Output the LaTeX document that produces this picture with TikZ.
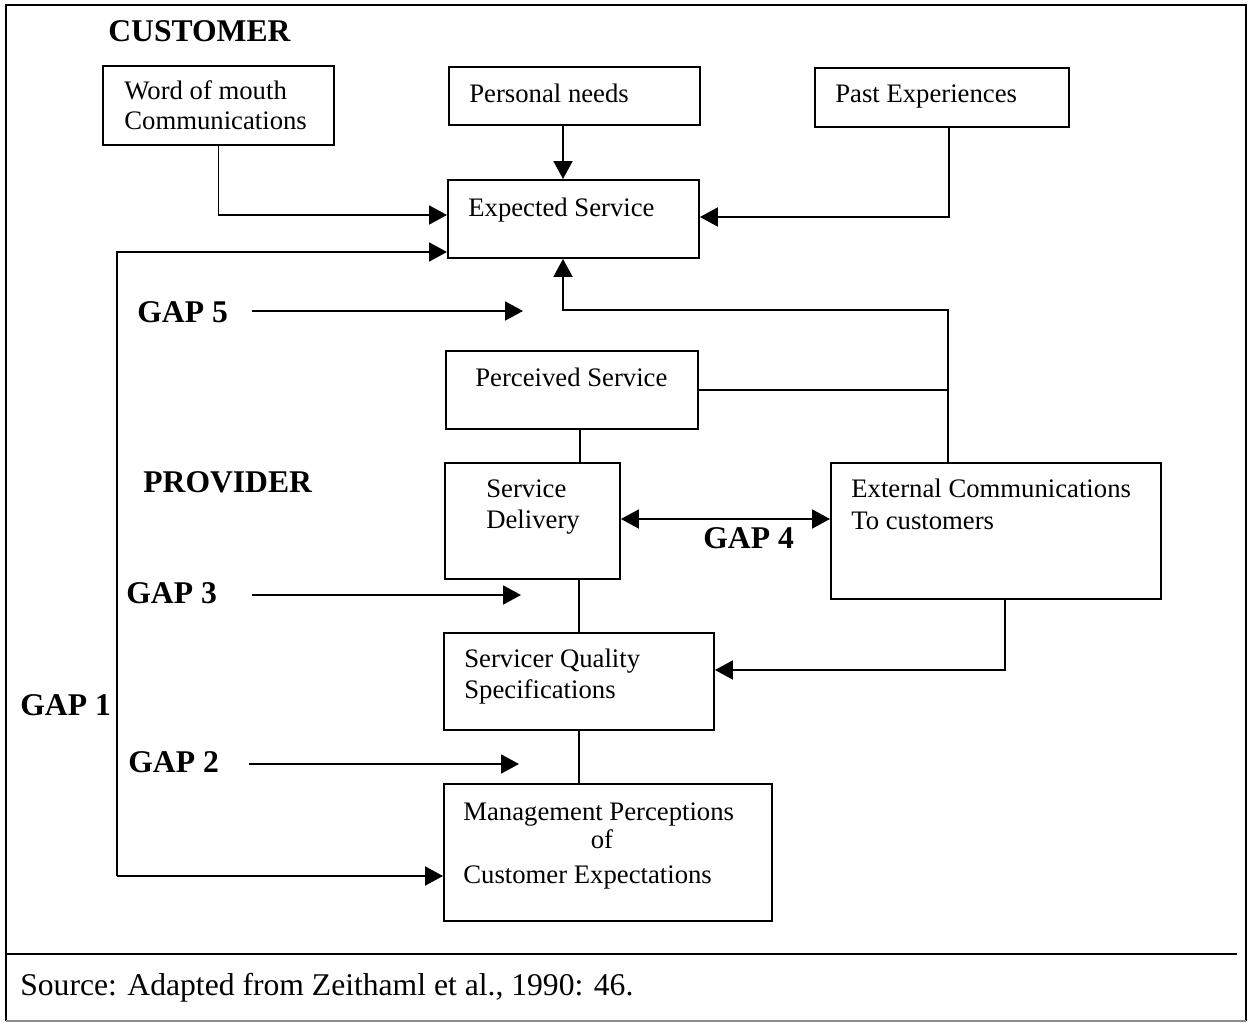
\documentclass[tikz,border=0pt]{standalone}
\usepackage{fontspec}
\setmainfont{Liberation Serif}
\usetikzlibrary{arrows.meta}
\begin{document}
\begin{tikzpicture}[x=0.02cm,y=-0.02cm,
  frame/.style={line width=1.6pt},
  boxnode/.style 2 args={draw, line width=1.1pt, rectangle, inner sep=0pt,
    anchor=north west, minimum width=#1*0.02cm, minimum height=#2*0.02cm},
  txt/.style={anchor=base west, inner sep=0pt, font=\fontsize{15.2}{18}\selectfont},
  head/.style={anchor=base west, inner sep=0pt, font=\fontsize{18}{21}\selectfont\bfseries},
  note/.style={anchor=base west, inner sep=0pt, font=\fontsize{18}{21}\selectfont},
  link/.style={line width=1.1pt},
  tip/.tip={Triangle[length=0.36cm,width=0.38cm]},
  arr/.style={link, -tip},
  darr/.style={link, tip-tip},
]
\useasboundingbox (0,0) rectangle (1252,1024);
\fill[white] (0,0) rectangle (1252,1024);

% outer frame and the source strip
\draw[frame] (6,1021) -- (6,5) -- (1246,5) -- (1246,1021);
\draw[line width=0.8pt, black!45] (6,1021) -- (1246,1021);
\draw[line width=1.1pt] (6,954) -- (1237,954);

% section headings
\node[head] (cust) at (108,42) {CUSTOMER};
\node[head] (prov) at (143,492) {PROVIDER};

% boxes
\node[boxnode={231}{79}] (wom) at (102,65) {};
\node[boxnode={251}{58}] (pn)  at (448,66) {};
\node[boxnode={254}{59}] (pe)  at (814,67) {};
\node[boxnode={251}{78}] (es)  at (447,179) {};
\node[boxnode={252}{78}] (ps)  at (445,350) {};
\node[boxnode={175}{116}] (sd) at (444,462) {};
\node[boxnode={330}{136}] (ec) at (830,462) {};
\node[boxnode={270}{97}] (sq)  at (443,632) {};
\node[boxnode={328}{137}] (mp) at (443,783) {};

% box texts
\node[txt] (wom1) at (124,100) {Word of mouth};
\node[txt] (wom2) at (124,130) {Communications};
\node[txt] (pnt)  at (469,103) {Personal needs};
\node[txt] (pet)  at (835,103) {Past Experiences};
\node[txt] (est)  at (468,216) {Expected Service};
\node[txt] (pst)  at (475,386) {Perceived Service};
\node[txt] (sd1)  at (486,497) {Service};
\node[txt] (sd2)  at (486,528) {Delivery};
\node[txt] (ec1)  at (851,497) {External Communications};
\node[txt] (ec2)  at (851,529) {To customers};
\node[txt] (sq1)  at (464,667) {Servicer Quality};
\node[txt] (sq2)  at (464,698) {Specifications};
\node[txt] (mp1)  at (463,820) {Management Perceptions};
\node[txt, anchor=base] (mp2) at (602,848) {of};
\node[txt] (mp3)  at (463,883) {Customer Expectations};

% gap labels
\node[head] (gap5) at (137,322) {GAP 5};
\node[head] (gap4) at (703,548) {GAP 4};
\node[head] (gap3) at (126,603) {GAP 3};
\node[head] (gap1) at (20,715) {GAP 1};
\node[head] (gap2) at (128,772) {GAP 2};

% source line
\node[note] (src) at (20,995) {Source: Adapted from Zeithaml et al., 1990: 46.};

% customer side inputs
\draw[arr] (wom.south) |- (es.west |- 0,215);
\draw[arr] (563,0 |- pn.south) -- (563,0 |- es.north);
\draw[arr] (949,0 |- pe.south) |- (es.east |- 0,217);

% gap 1 bracket
\coordinate (g1t) at (117,252);
\coordinate (g1b) at (117,876);
\draw[arr] (g1b) -- (g1t) -- (es.west |- g1t);
\draw[arr] (g1b) -- (mp.west |- g1b);

% perceived service and external communications feed expected service
\coordinate (jt) at (948,310);
\coordinate (esin) at (563,310);
\draw[arr] (jt |- ec.north) -- (jt) -- (esin) -- (esin |- es.south);
\draw[link] (ps.east) -- (jt |- ps.east);

% provider chain
\draw[link] (580,0 |- ps.south) -- (580,0 |- sd.north);
\draw[link] (579,0 |- sd.south) -- (579,0 |- sq.north);
\draw[link] (sq.south) -- (sq.south |- mp.north);
\draw[darr] (sd.east |- 0,519) -- (ec.west |- 0,519);
\draw[arr] (1005,0 |- ec.south) |- (sq.east |- 0,670);

% gap arrows
\coordinate (g5s) at (252,311);
\coordinate (g5e) at (523,311);
\coordinate (g3s) at (252,595);
\coordinate (g3e) at (521,595);
\coordinate (g2s) at (249,764);
\coordinate (g2e) at (519,764);
\draw[arr] (g5s) -- (g5e);
\draw[arr] (g3s) -- (g3e);
\draw[arr] (g2s) -- (g2e);
\end{tikzpicture}
\end{document}
